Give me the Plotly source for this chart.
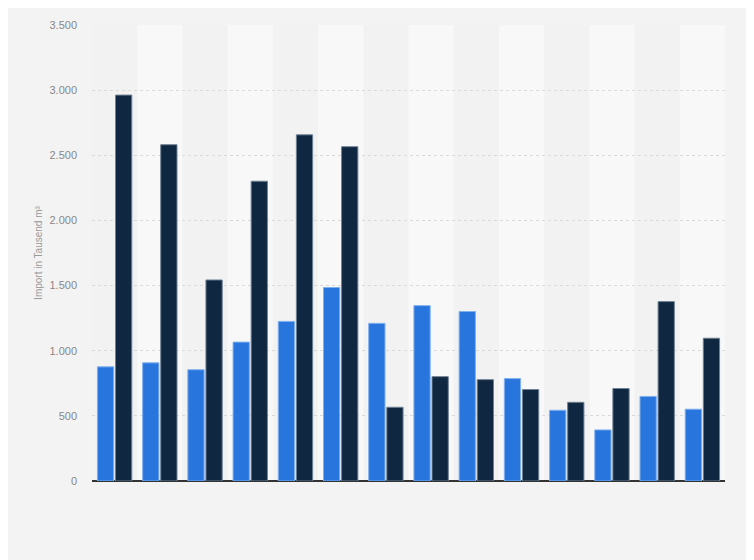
import plotly.graph_objects as go

# values (thousand m³), 14 unlabeled categories
categories = [f"K{i}" for i in range(1, 15)]
series_a = [876, 907, 854, 1066, 1225, 1485, 1210, 1346, 1301, 786, 543, 392, 649, 551]
series_b = [2962, 2581, 1543, 2301, 2657, 2566, 566, 801, 778, 702, 604, 710, 1377, 1096]

blue = "#2876dd"
navy = "#0f2740"

fig = go.Figure()
fig.add_trace(
    go.Bar(
        x=categories, y=series_a, name="Serie A",
        marker_color=blue, marker_line_color="#7fb0ee", marker_line_width=1,
    )
)
fig.add_trace(
    go.Bar(
        x=categories, y=series_b, name="Serie B",
        marker_color=navy, marker_line_color="#6f8194", marker_line_width=1,
    )
)

# alternating column bands
for i in range(1, len(categories), 2):
    fig.add_shape(
        type="rect", xref="x", yref="paper",
        x0=i - 0.5, x1=i + 0.5, y0=0, y1=1,
        fillcolor="#f8f8f8", line_width=0, layer="below",
    )

# the page body adds an 8px margin, so the figure is a bit smaller
fig.update_layout(
    width=746, height=552,
    margin=dict(l=84, r=29, t=11, b=79),
    paper_bgcolor="#f3f3f3", plot_bgcolor="#f2f2f2",
    barmode="group", bargap=0.2, bargroupgap=0.1,
    showlegend=False,
    separators=",.",
    font=dict(family="Liberation Sans, Arial", size=11, color="#888888"),
)
fig.update_xaxes(showticklabels=False, showgrid=False, zeroline=False,
                 showline=False, ticks="")
fig.update_yaxes(
    range=[0, 3500], dtick=500, tickformat=",d",
    showgrid=True, gridcolor="#dadada", griddash="dot", gridwidth=1,
    zeroline=True, zerolinecolor="#333333", zerolinewidth=1.5,
    ticks="", ticklabelstandoff=14,
    title=dict(text="Import in Tausend m³", font=dict(size=10, color="#999999"), standoff=4),
)

fig.write_html("out.html")
